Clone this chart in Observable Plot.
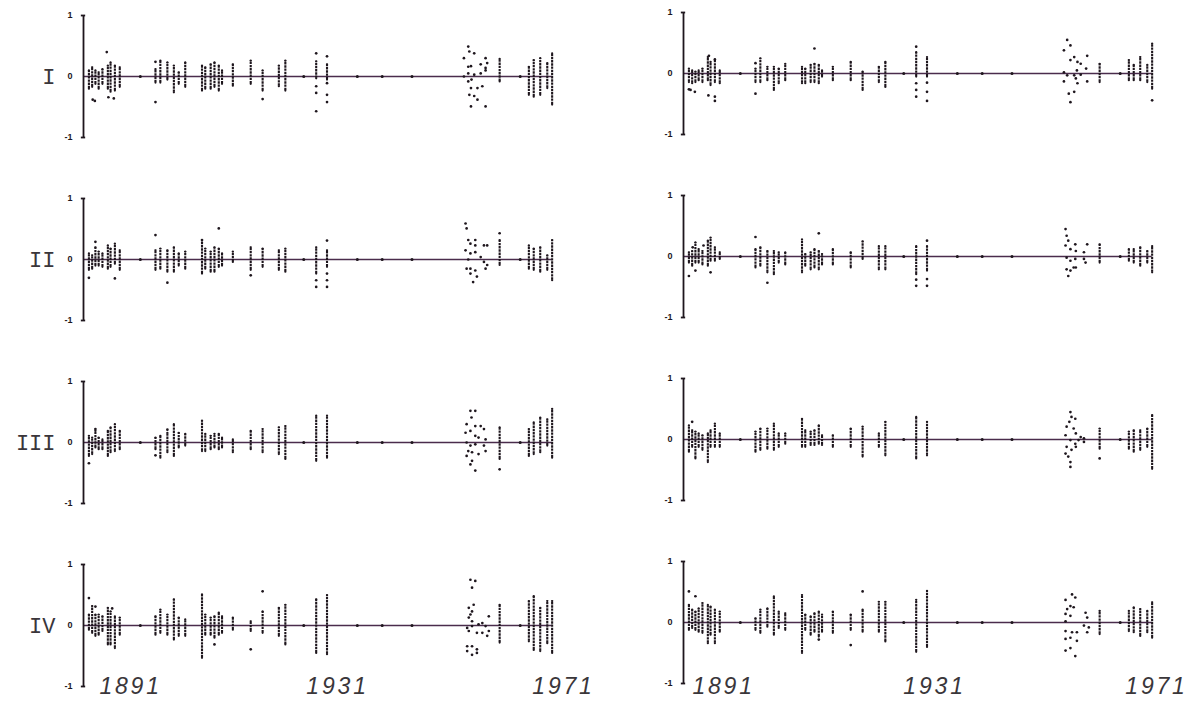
<!DOCTYPE html>
<html><head><meta charset="utf-8">
<script src="https://cdn.jsdelivr.net/npm/d3@7"></script>
<script src="https://cdn.jsdelivr.net/npm/@observablehq/plot@0.6"></script>
<style>
html,body{margin:0;padding:0;background:#fff;}
#chart{position:relative;width:1200px;height:706px;overflow:hidden;background:#fff;}
.panel{position:absolute;width:600px;height:183px;}
</style></head><body><div id="chart"></div>
<script>
// x domain (years) and shared observation positions
const xStart = 1882.3, xEnd = 1971;
const stripYears = [1883.3,1883.9,1884.5,1885.1,1885.8,1886.8,1887.3,1888.1,1889.0,
  1895.6,1896.5,1897.8,1899.0,1899.9,1901.1,
  1904.2,1904.8,1905.8,1906.5,1907.3,1907.9,1909.9,1913.2,1915.4,1918.4,1919.6,1925.3,1927.3,
  1959.2,1964.6,1965.5,1966.7,1968.0,1968.9];
const zeroYears = [1892.8,1923.0,1932.9,1937.5,1943.0,1963.0];
const rowLabels = ["I","II","III","IV"];
const tickYears = [1891,1931,1971];
const tickLabels = ["1891","1931","1971"];
const yTicks = [-1,0,1];

// Panel I, left
const p1L_hi = [.10,.15,.10,.07,.12,.18,.23,.18,.15, .12,.26,.23,.18,.07,.23, .18,.15,.20,.23,.18,.10,.20,.26,.10,.18,.26,.25,.20, .29,.16,.27,.30,.22,.38];
const p1L_lo = [-.20,-.17,-.12,-.20,-.12,-.20,-.25,-.23,-.17, -.10,-.10,-.05,-.26,-.12,-.17, -.23,-.20,-.20,-.17,-.23,-.12,-.15,-.12,-.23,-.16,-.23,-.03,-.05, -.08,-.30,-.33,-.30,-.19,-.46];
const p1L_dots = [[1886.6,.40],[1884.4,-.40],[1884.0,-.38],[1886.9,-.34],[1887.9,-.36],[1895.6,.24],[1895.6,-.42],[1915.4,-.37],
  [1925.3,.38],[1925.3,-.16],[1925.3,-.27],[1925.3,-.57],[1927.3,.33],[1927.3,-.11],[1927.3,-.30],[1927.3,-.42],
  [1953.4,.49],[1953.6,.41],[1954.5,.38],[1952.6,.30],[1953.4,.16],[1953.9,.17],[1955.7,.20],[1956.6,.30],[1956.9,.22],
  [1953.4,.05],[1954.5,.03],[1955.7,.05],[1953.4,-.08],[1953.9,-.19],[1955.1,-.19],[1956.0,-.16],[1953.6,-.30],
  [1954.5,-.32],[1955.1,-.38],[1953.9,-.49],[1956.6,-.49],[1952.6,0],[1954.0,-.05],[1956.6,.10],[1956.6,.14]];

// Panel I, right
const p1R_hi = [.08,.05,.03,.05,.08,.27,.19,.22,.05, .08,.25,.11,.11,.08,.16, .11,.08,.14,.16,.14,.05,.11,.19,.03,.11,.19,.35,.27, .16,.22,.14,.27,.14,.49];
const p1R_lo = [-.14,-.16,-.14,-.11,-.14,-.11,-.19,-.14,-.16, -.14,-.14,-.11,-.27,-.16,-.11, -.16,-.16,-.14,-.14,-.16,-.05,-.11,-.11,-.27,-.14,-.22,-.05,-.05, -.14,-.11,-.11,-.11,-.14,-.25];
const p1R_dots = [[1883.6,-.27],[1884.4,-.30],[1886.9,-.36],[1888.1,-.38],[1888.1,-.45],[1883.3,-.26],[1887.0,.29],[1888.1,.23],
  [1895.6,.17],[1895.6,-.33],[1906.5,.41],[1925.3,.44],[1925.3,-.16],[1925.3,-.27],[1925.3,-.38],[1927.3,-.15],[1927.3,-.30],[1927.3,-.45],[1968.9,-.44],
  [1953.2,.55],[1953.8,.46],[1952.6,.38],[1954.5,.27],[1953.8,.22],[1955.1,.19],[1955.7,.16],[1956.9,.29],[1952.6,.02],
  [1953.2,-.03],[1954.5,-.03],[1955.1,-.16],[1954.8,-.08],[1955.7,-.02],[1956.7,.08],[1956.9,-.13],[1952.6,-.13],
  [1953.5,-.33],[1954.5,-.30],[1953.8,-.47],[1955.0,.05]];

// Panel II, left
const p2L_hi = [.10,.07,.20,.13,.10,.23,.18,.26,.15, .15,.18,.15,.20,.10,.13, .28,.18,.13,.20,.18,.10,.13,.20,.18,.15,.18,.20,.15, .32,.23,.18,.20,.07,.32];
const p2L_lo = [-.17,-.15,-.10,-.10,-.12,-.15,-.12,-.07,-.17, -.17,-.15,-.20,-.20,-.10,-.15, -.23,-.15,-.20,-.20,-.12,-.10,-.04,-.17,-.12,-.17,-.20,-.23,-.12, -.09,-.15,-.17,-.20,-.17,-.34];
const p2L_dots = [[1883.3,-.30],[1884.5,.29],[1888.1,-.31],[1895.6,.40],[1897.8,-.38],[1904.2,.32],[1907.3,.51],[1913.2,-.26],
  [1925.3,-.34],[1925.3,-.45],[1927.3,.31],[1927.3,-.23],[1927.3,-.34],[1927.3,-.45],[1959.2,.43],
  [1952.9,.59],[1953.1,.51],[1953.4,.32],[1953.8,.26],[1954.7,.32],[1954.7,.23],[1956.3,.23],[1956.9,.23],[1952.9,.15],
  [1953.8,.10],[1954.7,.12],[1953.4,0],[1955.7,.04],[1956.3,-.04],[1953.8,-.15],[1954.7,-.18],[1953.1,-.15],
  [1956.6,-.15],[1953.8,-.23],[1955.0,-.28],[1954.3,-.37],[1956.9,-.09]];

// Panel II, right
const p2R_hi = [.07,.09,.23,.12,.09,.26,.31,.15,.07, .12,.15,.09,.09,.07,.07, .28,.04,.07,.12,.09,.04,.12,.07,.25,.17,.17,.17,.17, .20,.12,.12,.15,.09,.17];
const p2R_lo = [-.10,-.15,-.10,-.10,-.13,-.15,-.07,-.07,-.04, -.18,-.15,-.26,-.29,-.10,-.13, -.26,-.15,-.21,-.18,-.21,-.13,-.13,-.18,-.04,-.21,-.21,-.29,-.23, -.10,-.07,-.10,-.15,-.10,-.26];
const p2R_dots = [[1883.3,-.32],[1884.5,-.23],[1887.3,-.26],[1895.6,.32],[1897.8,-.43],[1907.3,.38],[1925.3,-.38],[1925.3,-.48],
  [1927.3,.26],[1927.3,-.37],[1927.3,-.48],[1884.0,.15],[1886.0,.18],
  [1952.9,.45],[1953.1,.34],[1953.4,.26],[1952.9,.18],[1953.8,.12],[1954.7,.20],[1954.8,.09],[1956.3,.07],[1956.9,.20],
  [1953.1,-.02],[1953.8,-.07],[1954.7,-.04],[1956.3,-.04],[1956.6,-.10],[1953.1,-.21],[1953.8,-.23],[1954.4,-.18],
  [1954.8,-.18],[1953.4,-.32]];

// Panel III, left
const p3L_hi = [.11,.08,.19,.08,.05,.19,.25,.30,.19, .08,.11,.16,.30,.16,.14, .36,.14,.11,.14,.14,.08,.05,.19,.22,.25,.27,.44,.44, .25,.22,.33,.41,.38,.55];
const p3L_lo = [-.22,-.19,-.08,-.11,-.11,-.22,-.16,-.14,-.11, -.11,-.25,-.16,-.22,-.08,-.05, -.14,-.14,-.11,-.08,-.11,-.08,-.16,-.11,-.16,-.19,-.27,-.30,-.25, -.27,-.22,-.19,-.16,-.05,-.25];
const p3L_dots = [[1883.3,-.34],[1884.5,.22],[1895.6,-.21],[1897.8,.21],[1959.2,-.44],
  [1953.8,.52],[1954.7,.52],[1954.0,.41],[1953.1,.30],[1954.7,.27],[1955.7,.27],[1956.3,.22],[1952.9,.16],[1953.8,.19],
  [1954.7,.11],[1955.3,.08],[1956.6,.05],[1953.1,0],[1953.8,-.05],[1954.7,-.03],[1956.3,-.05],[1953.4,-.14],
  [1954.1,-.16],[1956.6,-.14],[1953.1,-.22],[1954.1,-.30],[1953.8,-.36],[1954.7,-.46],[1955.3,-.19]];

// Panel III, right
const p3R_hi = [.23,.15,.13,.10,.07,.10,.15,.26,.10, .13,.18,.18,.26,.10,.10, .34,.15,.13,.15,.23,.07,.07,.18,.21,.10,.29,.37,.29, .18,.13,.15,.15,.18,.40];
const p3R_lo = [-.20,-.12,-.31,-.12,-.17,-.37,-.12,-.12,-.12, -.20,-.17,-.15,-.17,-.12,-.07, -.12,-.12,-.09,-.09,-.07,-.09,-.12,-.12,-.28,-.12,-.26,-.31,-.26, -.15,-.15,-.20,-.17,-.12,-.48];
const p3R_dots = [[1883.9,.29],[1959.2,-.31],
  [1953.8,.45],[1954.0,.37],[1953.6,.29],[1954.7,.34],[1953.1,.21],[1954.4,.18],[1954.8,.10],[1955.7,.04],[1956.3,.02],
  [1952.9,.07],[1953.8,-.01],[1954.7,-.07],[1955.3,-.01],[1953.1,-.12],[1954.0,-.17],[1954.8,-.12],[1952.9,-.23],
  [1953.4,-.28],[1953.8,-.37],[1953.8,-.45],[1956.3,-.04]];

// Panel IV, left
const p4L_hi = [.18,.32,.18,.18,.15,.29,.23,.15,.13, .15,.26,.18,.43,.13,.10, .51,.18,.13,.15,.21,.15,.13,.07,.23,.29,.34,.43,.50, .34,.40,.48,.29,.40,.40];
const p4L_lo = [-.07,-.12,-.17,-.15,-.09,-.31,-.31,-.37,-.15, -.15,-.12,-.15,-.23,-.17,-.17, -.53,-.15,-.15,-.20,-.15,-.12,-.07,-.09,-.12,-.17,-.31,-.45,-.47, -.28,-.26,-.40,-.42,-.29,-.45];
const p4L_dots = [[1883.3,.45],[1884.5,.31],[1887.6,.28],[1906.5,-.31],[1913.2,-.39],[1915.4,.56],
  [1953.8,.75],[1954.7,.73],[1954.1,.62],[1954.4,.34],[1953.5,.29],[1954.1,.23],[1953.8,.18],[1953.5,.13],[1954.1,.07],
  [1955.3,.02],[1956.0,.04],[1957.2,.15],[1956.6,-.01],[1957.2,-.09],[1954.1,-.01],[1953.2,-.04],[1953.5,-.09],
  [1955.0,-.12],[1956.0,-.12],[1956.9,-.17],[1953.2,-.34],[1954.1,-.34],[1955.0,-.39],[1953.2,-.42],[1954.1,-.48],[1955.0,-.45]];

// Panel IV, right
const p4R_hi = [.29,.21,.18,.23,.32,.29,.26,.21,.18, .07,.21,.23,.43,.18,.15, .45,.13,.10,.15,.18,.13,.18,.13,.21,.34,.34,.37,.52, .19,.19,.25,.22,.19,.33];
const p4R_lo = [-.12,-.09,-.12,-.15,-.17,-.34,-.20,-.34,-.15, -.12,-.17,-.07,-.20,-.09,-.12, -.50,-.12,-.20,-.15,-.23,-.15,-.17,-.12,-.15,-.15,-.31,-.48,-.40, -.19,-.14,-.16,-.22,-.16,-.25];
const p4R_dots = [[1883.3,.51],[1884.5,.43],[1907.3,-.28],[1913.2,-.37],[1915.4,.51],
  [1954.1,.46],[1954.7,.41],[1952.9,.37],[1953.8,.27],[1953.2,.22],[1954.4,.25],[1952.9,.14],[1953.8,.11],[1956.6,.16],
  [1956.9,.08],[1956.3,-.05],[1957.2,-.08],[1956.9,-.16],[1952.9,-.14],[1954.1,-.16],[1955.0,-.16],[1952.9,-.27],
  [1953.8,-.25],[1955.0,-.30],[1952.9,-.46],[1953.8,-.42],[1954.7,-.55],[1952.9,.02]];

const panels = [
  {row:0,col:0,hi:p1L_hi,lo:p1L_lo,dots:p1L_dots},
  {row:0,col:1,hi:p1R_hi,lo:p1R_lo,dots:p1R_dots},
  {row:1,col:0,hi:p2L_hi,lo:p2L_lo,dots:p2L_dots},
  {row:1,col:1,hi:p2R_hi,lo:p2R_lo,dots:p2R_dots},
  {row:2,col:0,hi:p3L_hi,lo:p3L_lo,dots:p3L_dots},
  {row:2,col:1,hi:p3R_hi,lo:p3R_lo,dots:p3R_dots},
  {row:3,col:0,hi:p4L_hi,lo:p4L_lo,dots:p4L_dots},
  {row:3,col:1,hi:p4R_hi,lo:p4R_lo,dots:p4R_dots}
];

const ink = "#1e161d";
const lineInk = "#4a2c4c";
const labelShift = [[0,-9.5,0],[-7,-12.5,-7]];

function drawPanel(p) {
  const strips = stripYears.map((x,i) => ({x, lo: p.lo[i], hi: p.hi[i]}));
  const dots = p.dots.map(([x,y]) => ({x, y}));
  const lastYear = stripYears[stripYears.length - 1];
  const marks = [
    Plot.ruleY([0], {x1: xStart, x2: lastYear, stroke: lineInk, strokeWidth: 1.4}),
    Plot.ruleX([xStart], {y1: -1, y2: 1, stroke: ink, strokeWidth: 1.8}),
    Plot.ruleY([-1, 1], {x1: xStart - 0.4, x2: xStart + 0.4, stroke: ink, strokeWidth: 1.8}),
    Plot.ruleX(strips, {x: "x", y1: "lo", y2: "hi", stroke: ink, strokeWidth: 2.1, strokeDasharray: "2.4,0.8"}),
    Plot.dot(strips, {x: "x", y: "hi", r: 1.1, fill: ink}),
    Plot.dot(strips, {x: "x", y: "lo", r: 1.1, fill: ink}),
    Plot.dot(dots, {x: "x", y: "y", r: 1.35, fill: ink}),
    Plot.dot(zeroYears, {x: d => d, y: () => 0, r: 1.5, fill: ink})
  ];
  if (p.col === 0) {
    marks.push(Plot.text([rowLabels[p.row]], {x: xStart, y: 0, text: d => d, dx: -28, textAnchor: "end",
      fontSize: 22, fontFamily: "Liberation Mono", fontWeight: "normal", fill: "#3a363a"}));
  }
  if (p.row === 3) {
    tickYears.forEach((yr, i) => {
      marks.push(Plot.text([tickLabels[i]], {x: () => yr, y: () => -1, text: d => d,
        dx: labelShift[p.col][i], dy: p.col === 1 ? 3 : 0, textAnchor: "middle",
        fontSize: 23, fontStyle: "italic", fontFamily: "Liberation Sans", fontWeight: "normal",
        fill: "#3a363a", ariaLabel: () => "year label"}));
    });
  }
  const svg = Plot.plot({
    width: 600, height: 183,
    marginLeft: 83, marginRight: 37, marginTop: 15, marginBottom: 46,
    x: {domain: [xStart, xEnd], range: [83, 563], axis: null},
    y: {domain: [-1, 1], range: [137, 15], ticks: yTicks, tickFormat: d => String(d),
        tickSize: 0, tickPadding: 11, label: null},
    style: {fontFamily: "Liberation Sans", fontSize: "9px", color: ink,
            background: "transparent", overflow: "visible", maxWidth: "none"},
    marks
  });
  svg.querySelectorAll('[aria-label^="y-axis"]').forEach(g => g.style.fontWeight = "bold");
  svg.querySelectorAll('text').forEach(t => {
    if (tickLabels.includes(t.textContent)) t.style.letterSpacing = "2.8px";
  });
  const div = document.createElement("div");
  div.className = "panel";
  div.style.left = (p.col * 600) + "px";
  div.style.top = (p.row * 183 - (p.col === 1 ? 3 : 0)) + "px";
  div.appendChild(svg);
  document.getElementById("chart").appendChild(div);
}
panels.forEach(drawPanel);
</script></body></html>
